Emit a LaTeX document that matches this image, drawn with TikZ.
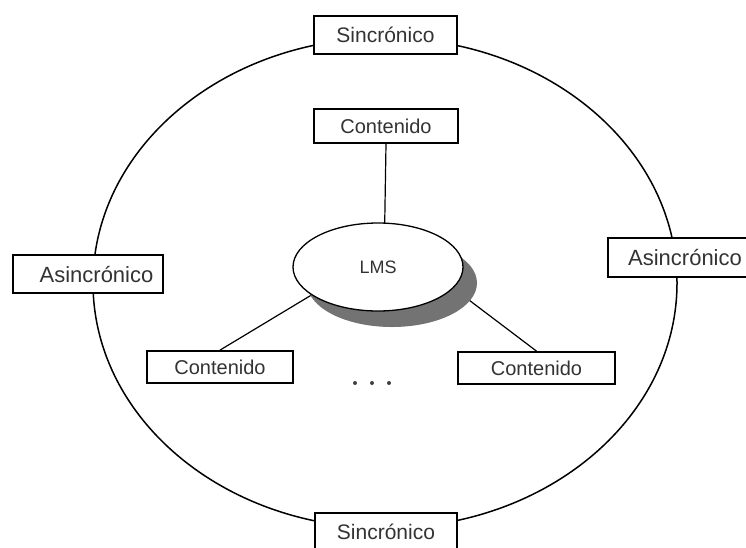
\documentclass[tikz,border=0pt]{standalone}
\usepackage{fontspec}
\setmainfont{Liberation Sans}
\usetikzlibrary{shapes.geometric,shadows}
\begin{document}
\begin{tikzpicture}[x=1pt,y=-1pt,
  box/.style={draw=black, line width=1.8pt, fill=white, inner sep=0pt,
    text=black!80, font=\fontsize{21}{21}\selectfont},
  abox/.style={box, font=\fontsize{22}{22}\selectfont},
  cbox/.style={box, font=\fontsize{20}{20}\selectfont},
  link/.style={draw=black, line width=1.2pt},
  dot/.style={circle, fill=black!75, inner sep=0pt, minimum size=4pt}]
\useasboundingbox (0,0) rectangle (746,547);
\clip (0,0) rectangle (746,547);

% outer ring
\draw[line width=1.5pt] (385,283) ellipse [x radius=292pt, y radius=245pt];

% boxes on the ring
\node[box, minimum width=143pt, minimum height=38pt] (syncT) at (385.5,35) {Sincrónico};
\node[box, minimum width=142pt, minimum height=38pt] (syncB) at (386,532) {Sincrónico};
\node[abox, minimum width=150pt, minimum height=38pt] (asyncL) at (88,274) {\hspace*{17pt}Asincrónico};
\node[abox, minimum width=150pt, minimum height=39pt] (asyncR) at (683,257.5) {\hspace*{4pt}Asincrónico};

% content boxes
\node[cbox, minimum width=144pt, minimum height=34pt] (cT) at (386,126) {Contenido};
\node[cbox, minimum width=146pt, minimum height=32pt] (cL) at (220,367) {Contenido};
\node[cbox, minimum width=157pt, minimum height=32pt] (cR) at (536.5,368) {Contenido};

% links to the hub (ends hidden under the hub)
\coordinate (hub) at (384,267);
\coordinate (hubL) at (358,267);
\coordinate (hubR) at (424,266);
\draw[link] (cT.south) -- (hub);
\draw[link] (cL.north) -- (hubL);
\draw[link] (cR.north) -- (hubR);

% hub
\node[ellipse, draw=black, line width=1.3pt, fill=white,
  minimum width=170pt, minimum height=88pt, inner sep=0pt,
  text=black!80, font=\fontsize{18}{18}\selectfont,
  drop shadow={shadow xshift=14pt, shadow yshift=-16pt, fill=black!55, opacity=1}]
  (lms) at (378,267) {LMS};

% ellipsis dots
\node[dot] (d1) at (355,383) {};
\node[dot] (d2) at (372,383) {};
\node[dot] (d3) at (389,383) {};
\end{tikzpicture}
\end{document}
